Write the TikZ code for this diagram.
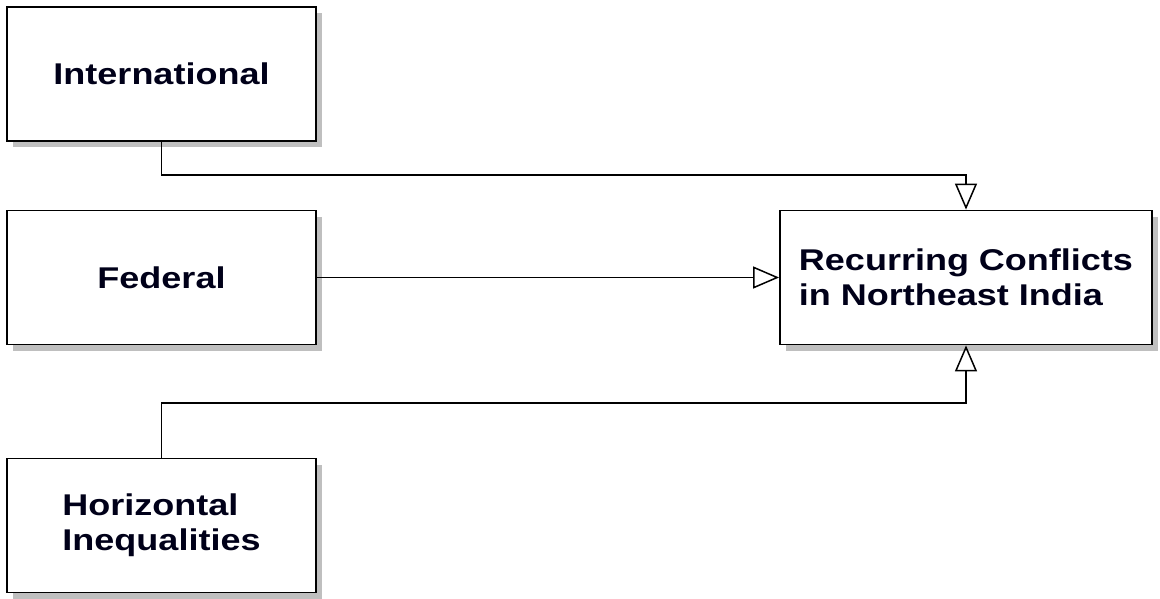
\documentclass[tikz,border=0pt]{standalone}
\usepackage{fontspec}
\setmainfont{Liberation Sans}[FakeStretch=1.2]
\usetikzlibrary{arrows.meta,shadows}
\begin{document}
\begin{tikzpicture}[x=1pt,y=-1pt,
  box/.style={draw=black,line width=1.8pt,fill=white,minimum width=309pt,minimum height=134pt,
    inner sep=0pt,font=\fontsize{30}{35}\selectfont\bfseries,text=black!90!blue,
    drop shadow={shadow xshift=6pt,shadow yshift=-6pt,fill=black!25,opacity=1}},
  link/.style={draw=black,line width=1.5pt,-{Triangle[open,length=26pt,width=22pt,line width=1.5pt]}}]
  \useasboundingbox (0,0) rectangle (1160,599);
  \node[box] (intl) at (161.5,74) {International};
  \node[box] (fed) at (161.5,277.5) {Federal};
  \node[box,align=left] (hor) at (161.5,525.5) {Horizontal\\Inequalities};
  \node[box,minimum width=372pt,align=left] (rc) at (966,277.5) {Recurring Conflicts\\in Northeast India};
  \draw[link] (intl.south) |- (966,175) -- (rc.north);
  \draw[link] (fed.east) -- (rc.west);
  \draw[link] (hor.north) |- (966,403) -- (rc.south);
\end{tikzpicture}
\end{document}
